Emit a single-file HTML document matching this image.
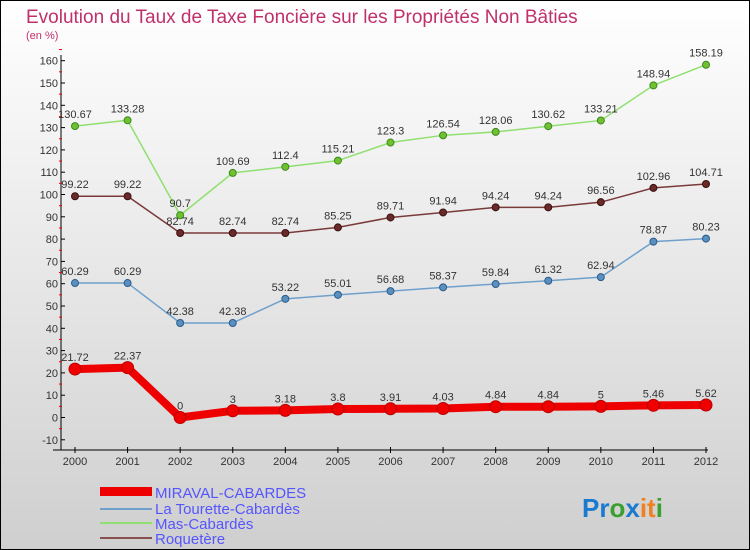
<!DOCTYPE html>
<html><head><meta charset="utf-8"><style>
body{margin:0}
#c{position:relative;width:750px;height:550px;box-sizing:border-box;border:1px solid #000;background:linear-gradient(#fff,#cfcfcf);font-family:"Liberation Sans",sans-serif;overflow:hidden}
</style></head><body>
<div id="c">
<svg id="s" width="750" height="550" style="position:absolute;left:-1px;top:-1px">
<text x="26" y="23" font-size="19" fill="#c0306a">Evolution du Taux de Taxe Foncière sur les Propriétés Non Bâties</text>
<text x="26" y="39" font-size="11" fill="#c0306a">(en %)</text>
<g id="axes"></g><g id="series"></g>
<g>
<rect x="100" y="487" width="52" height="9" fill="#e00"/>
<text x="155" y="498" font-size="15" fill="#55f">MIRAVAL-CABARDES</text>
<rect x="100" y="508" width="52" height="2" fill="#6fa0cc"/>
<text x="155" y="514" font-size="15" fill="#55f">La Tourette-Cabardès</text>
<rect x="100" y="522" width="52" height="2" fill="#90e070"/>
<text x="155" y="529" font-size="15" fill="#55f">Mas-Cabardès</text>
<rect x="100" y="537" width="52" height="2" fill="#8a5050"/>
<text x="155" y="544" font-size="15" fill="#55f">Roquetère</text>
</g>
<text x="582" y="517" font-size="26" font-weight="bold"><tspan fill="#1a7ad0">Pr</tspan><tspan fill="#3aa030">o</tspan><tspan fill="#1a7ad0">x</tspan><tspan fill="#f08020">it</tspan><tspan fill="#3aa030">i</tspan></text>
</svg></div>
<script>
const years=[2000,2001,2002,2003,2004,2005,2006,2007,2008,2009,2010,2011,2012];
const miraval=[21.72,22.37,0,3,3.18,3.8,3.91,4.03,4.84,4.84,5,5.46,5.62];
const tourette=[60.29,60.29,42.38,42.38,53.22,55.01,56.68,58.37,59.84,61.32,62.94,78.87,80.23];
const mas=[130.67,133.28,90.7,109.69,112.4,115.21,123.3,126.54,128.06,130.62,133.21,148.94,158.19];
const roquetere=[99.22,99.22,82.74,82.74,82.74,85.25,89.71,91.94,94.24,94.24,96.56,102.96,104.71];
const yTicks=[-10,0,10,20,30,40,50,60,70,80,90,100,110,120,130,140,150,160];
const NS="http://www.w3.org/2000/svg";
const X=i=>75+i*(706-75)/12;
const Y=v=>417.5-v*2.23;
function mk(t,a,p){const e=document.createElementNS(NS,t);for(const k in a)e.setAttribute(k,a[k]);p.appendChild(e);return e;}
const ax=document.getElementById('axes');
const yl=mk('line',{x1:61,x2:61,y1:55,y2:450,stroke:'#000'},ax);


const xl=mk('line',{x1:53,x2:708,y1:450,y2:450,stroke:'#000'},ax);


yTicks.forEach(v=>{
 mk('line',{x1:61,x2:65,y1:Y(v),y2:Y(v),stroke:'#000'},ax);
 mk('line',{x1:59,x2:62,y1:Y(v+5),y2:Y(v+5),stroke:'#e00'},ax);
 const t=mk('text',{x:58,y:Y(v)+4,'text-anchor':'end','font-size':11,fill:'#333'},ax);t.textContent=v;
 
 
});
years.forEach((y,i)=>{
 mk('line',{x1:X(i),x2:X(i),y1:447,y2:453,stroke:'#000'},ax);
 const t=mk('text',{x:X(i),y:465,'text-anchor':'middle','font-size':11,fill:'#333'},ax);t.textContent=y;
 
 
});
const sg=document.getElementById('series');
function series(d,name,col,w,r,dot,stroke){
 const g=mk('g',{},sg);
 
 
 const p=mk('polyline',{points:d.map((v,i)=>X(i)+','+Y(v)).join(' '),fill:'none',stroke:col,'stroke-width':w,'stroke-linejoin':'round'},g);
 
 
 d.forEach((v,i)=>{
  const c=mk('circle',{cx:X(i),cy:Y(v),r:r,fill:dot,stroke:stroke,'stroke-width':1},g);
  
  
  const t=mk('text',{x:X(i),y:Y(v)-8,'text-anchor':'middle','font-size':11,fill:'#333'},g);t.textContent=v;
  
  
 });
}
series(mas,'mas-cabardes','#90e070',1.5,3.5,'#70c030','#3a8a20');
series(roquetere,'roquetere','#7a3a3a',1.5,3.5,'#6a2a2a','#3a1010');
series(tourette,'la-tourette','#6fa0cc',1.5,3.5,'#5a90c0','#2a5a8a');
series(miraval,'miraval','#e00',8,6,'#e00','#b00');
</script>
</body></html>
